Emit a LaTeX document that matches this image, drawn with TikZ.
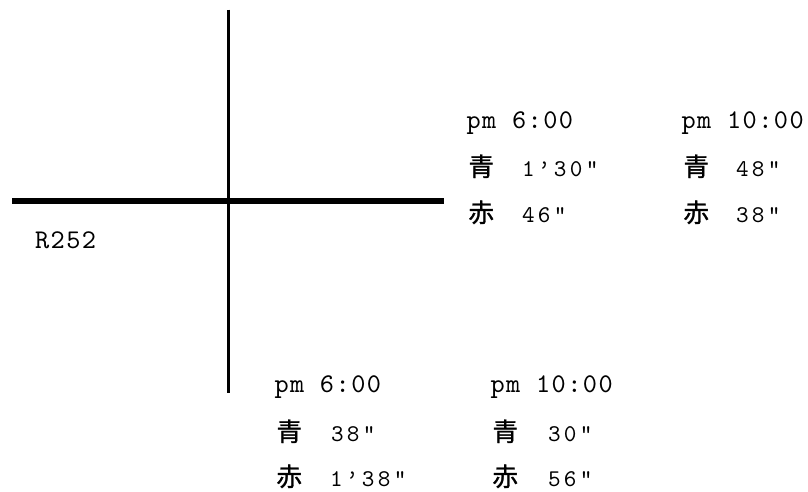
\documentclass[tikz,border=0pt]{standalone}
\usepackage{fontspec}
\newfontfamily\cjk[FakeBold=1.2]{Noto Sans CJK JP}
\newfontfamily\monoA[LetterSpace=5.5]{lmmono10-regular.otf}
\newfontfamily\monoB[LetterSpace=14]{lmmono10-regular.otf}
\tikzset{
  road/.style={draw=black, line cap=butt},
  lbl/.style={inner sep=0pt, outer sep=0pt, anchor=base west, font=\monoA\fontsize{27}{27}\selectfont},
  num/.style={inner sep=0pt, outer sep=0pt, anchor=base west, font=\monoB\fontsize{24}{24}\selectfont},
  kan/.style={inner sep=0pt, outer sep=0pt, anchor=base west, font=\cjk\fontsize{25.5}{25.5}\selectfont},
}
\begin{document}
\begin{tikzpicture}[x=1pt,y=-1pt]
\useasboundingbox (0,0) rectangle (808,491);
% roads
\coordinate (vtop) at (228.3,9.5);
\coordinate (vbot) at (228.3,393.3);
\coordinate (hl) at (12.3,201.2);
\coordinate (hr) at (444,201.2);
\draw[road, line width=3.3pt] (vtop) -- (vbot);
\draw[road, line width=5.7pt] (hl) -- (hr);
% road name
\node[lbl] (r252) at (35,248) {R252};
% top-left group
\node[lbl] (tlpm) at (466.5,128) {pm 6:00};
\node[kan] (tlb) at (468.5,176) {青};
\node[num] (tlbn) at (522,176) {1’30"};
\node[kan] (tlr) at (468.5,222) {赤};
\node[num] (tlrn) at (522,222) {46"};
% top-right group
\node[lbl] (trpm) at (681.5,128) {pm 10:00};
\node[kan] (trb) at (683.5,176) {青};
\node[num] (trbn) at (736,176) {48"};
\node[kan] (trr) at (683.5,222) {赤};
\node[num] (trrn) at (736,222) {38"};
% bottom-left group
\node[lbl] (blpm) at (274.5,392) {pm 6:00};
\node[kan] (blb) at (276.5,441) {青};
\node[num] (blbn) at (331,441) {38"};
\node[kan] (blr) at (276.5,486) {赤};
\node[num] (blrn) at (330,486) {1’38"};
% bottom-right group
\node[lbl] (brpm) at (490.5,392) {pm 10:00};
\node[kan] (brb) at (492.5,441) {青};
\node[num] (brbn) at (548,441) {30"};
\node[kan] (brr) at (492.5,486) {赤};
\node[num] (brrn) at (548,486) {56"};
\end{tikzpicture}
\end{document}
